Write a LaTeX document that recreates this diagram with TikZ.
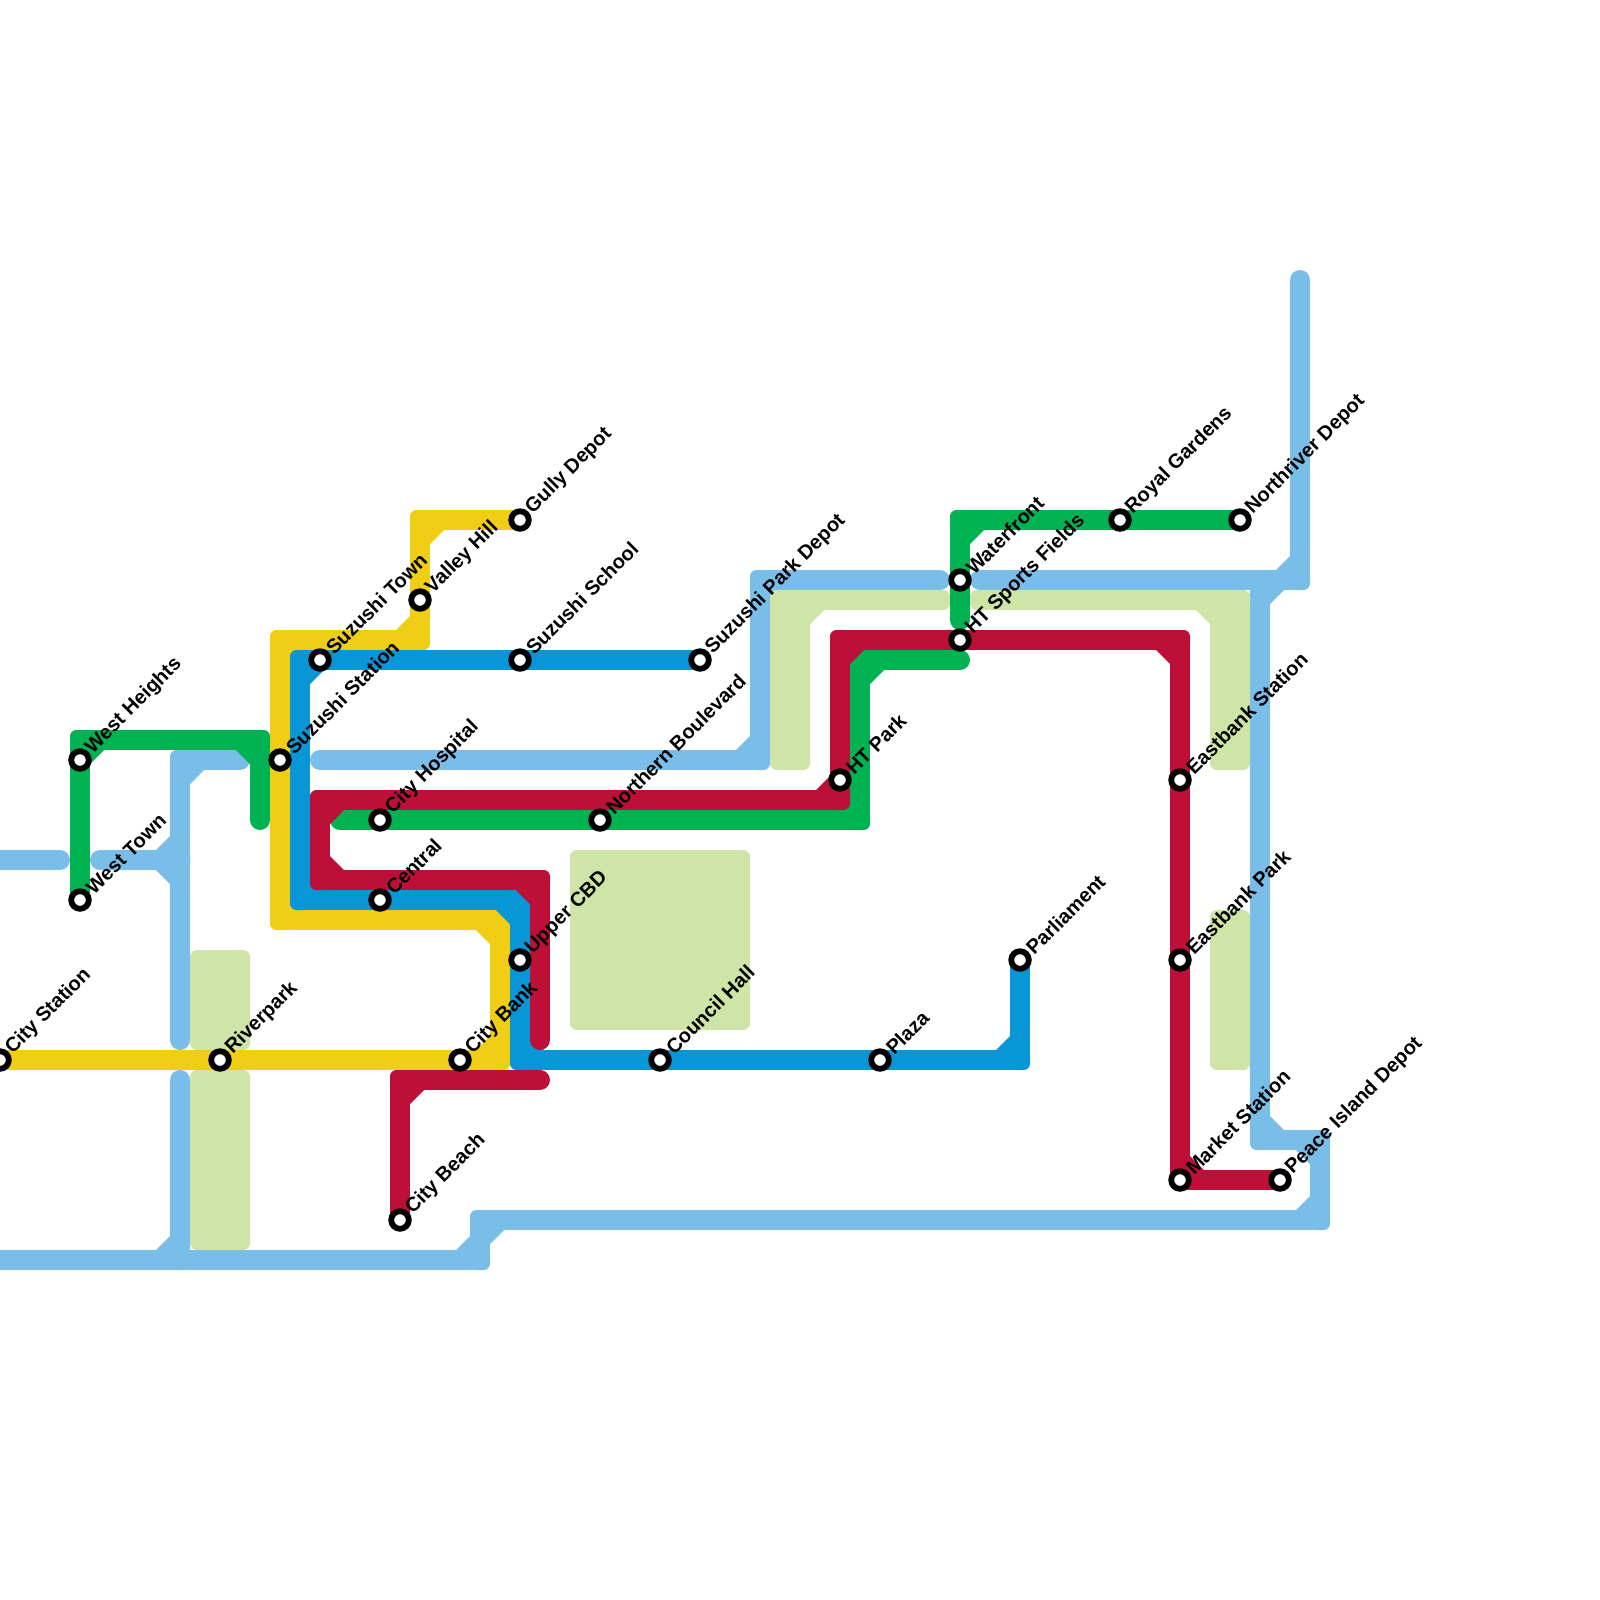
\documentclass[tikz,border=0pt]{standalone}
\usepackage{fontspec}
\setmainfont{Liberation Sans}
\usetikzlibrary{backgrounds}
\definecolor{cpale}{HTML}{CFE4A7}
\definecolor{csky}{HTML}{79BDE9}
\definecolor{cyel}{HTML}{F0CE15}
\definecolor{cblu}{HTML}{0896D7}
\definecolor{cgrn}{HTML}{00B251}
\definecolor{cred}{HTML}{BD1038}
\tikzset{
  metro/.style={draw=#1,line width=0.5cm,line cap=round,line join=bevel},
  parkarea/.style={fill=cpale,rounded corners=0.17cm},
  stationdot/.style={circle,draw=black,fill=white,line width=0.145cm,minimum size=0.44cm,inner sep=0pt},
  stationlabel/.style={rotate=45,anchor=west,inner sep=0pt,font=\fontsize{14.25pt}{16pt}\selectfont\bfseries,text=black},
}
% bend: small outer rounding plus chamfer filling the inner side of a 90 degree bend
\newcommand{\chf}[5]{\fill[#1,rounded corners=0.16cm] ({#2-.5},{#3-.5}) rectangle ({#2+.5},{#3+.5});
  \fill[#1] ({#2},{#3}) -- ({#2+1.2*#4},{#3}) -- ({#2+1.2*#4},{#3+.5*#5}) -- ({#2+.5*#4},{#3+1.2*#5}) -- ({#2},{#3+1.2*#5}) -- cycle;}
\newcommand{\stn}[4]{\node[stationdot] (#1) at (#2,#3) {};
  \node[stationlabel] (#1-label) at ([xshift=0.225cm,yshift=0.225cm]#1.center) {#4};}
\begin{document}
\begin{tikzpicture}[x=0.5cm,y=-0.5cm]
\useasboundingbox (0,0) rectangle (80,80);
\stn{wh}{4}{38}{West Heights}
\stn{wt}{4}{45}{West Town}
\stn{cs}{0}{53}{City Station}
\stn{rp}{11}{53}{Riverpark}
\stn{ss}{14}{38}{Suzushi Station}
\stn{st}{16}{33}{Suzushi Town}
\stn{vh}{21}{30}{Valley Hill}
\stn{gd}{26}{26}{Gully Depot}
\stn{sc}{26}{33}{Suzushi School}
\stn{sp}{35}{33}{Suzushi Park Depot}
\stn{ch}{19}{41}{City Hospital}
\stn{ce}{19}{45}{Central}
\stn{nb}{30}{41}{Northern Boulevard}
\stn{hp}{42}{39}{HT Park}
\stn{uc}{26}{48}{Upper CBD}
\stn{cb}{23}{53}{City Bank}
\stn{co}{33}{53}{Council Hall}
\stn{pl}{44}{53}{Plaza}
\stn{pa}{51}{48}{Parliament}
\stn{be}{20}{61}{City Beach}
\stn{wf}{48}{29}{Waterfront}
\stn{hs}{48}{32}{HT Sports Fields}
\stn{rg}{56}{26}{Royal Gardens}
\stn{nd}{62}{26}{Northriver Depot}
\stn{es}{59}{39}{Eastbank Station}
\stn{ep}{59}{48}{Eastbank Park}
\stn{ms}{59}{59}{Market Station}
\stn{pi}{64}{59}{Peace Island Depot}
\coordinate (skyTop) at (65,14);
\coordinate (skyEndA) at (49,29);
\coordinate (skyEndB) at (47,29);
\coordinate (skyEndC) at (16,38);
\coordinate (skyEast) at (63,29);
\coordinate (skyWest) at (-1,63);
\coordinate (skyV1) at (12,38);
\coordinate (skyV2) at (9,52);
\coordinate (skyV3) at (9,54);
\coordinate (skyV4) at (9,63);
\coordinate (skyH1) at (-1,43);
\coordinate (skyH2) at (3,43);
\coordinate (skyH3) at (5,43);
\coordinate (skyH4) at (9,43);
\coordinate (grnA) at (13,41);
\coordinate (grnB) at (17,41);
\coordinate (grnC) at (48,33);
\coordinate (grnD) at (48,31);
\coordinate (redA) at (27,52);
\coordinate (redB) at (27,54);
\begin{pgfonlayer}{background}
\fill[white] (0,0) rectangle (80,80);
% sky blue lines
\draw[metro=csky] (skyTop) -- (65,29) -- (skyEndA);
\draw[metro=csky] (skyEast) -- (63,57) -- (66,57) -- (66,61) -- (24,61) -- (24,63) -- (skyWest);
\draw[metro=csky] (skyEndC) -- (38,38) -- (38,29) -- (skyEndB);
\draw[metro=csky] (skyV1) -- (9,38) -- (skyV2);
\draw[metro=csky] (skyV3) -- (skyV4);
\draw[metro=csky] (skyH1) -- (skyH2);
\draw[metro=csky] (skyH3) -- (skyH4);
\chf{csky}{65}{29}{-1}{-1}
\chf{csky}{63}{29}{1}{1}
\chf{csky}{63}{57}{1}{-1}
\chf{csky}{66}{57}{-1}{1}
\chf{csky}{66}{61}{-1}{-1}
\chf{csky}{24}{61}{1}{1}
\chf{csky}{24}{63}{-1}{-1}
\chf{csky}{38}{38}{-1}{-1}
\chf{csky}{38}{29}{1}{1}
\chf{csky}{9}{38}{1}{1}
\chf{csky}{9}{43}{-1}{-1}
\chf{csky}{9}{43}{-1}{1}
\chf{csky}{9}{63}{-1}{-1}
% parks
\fill[parkarea] (38.5,29.5) rectangle (40.5,38.5);
\fill[parkarea] (38.5,29.5) rectangle (47.5,30.5);
\fill[cpale] (40.4,30.4) -- (41.2,30.4) -- (41.2,30.5) -- (40.5,31.2) -- (40.4,31.2) -- cycle;
\fill[parkarea] (48.5,29.5) rectangle (62.5,30.5);
\fill[parkarea] (60.5,29.5) rectangle (62.5,38.5);
\fill[cpale] (60.6,30.4) -- (59.8,30.4) -- (59.8,30.5) -- (60.5,31.2) -- (60.6,31.2) -- cycle;
\fill[parkarea] (60.5,45.5) rectangle (62.5,53.5);
\fill[parkarea] (28.5,42.5) rectangle (37.5,51.5);
\fill[parkarea] (9.5,47.5) rectangle (12.5,52.5);
\fill[parkarea] (9.5,53.5) rectangle (12.5,62.5);
% yellow line
\draw[metro=cyel] (cs.center) -- (rp.center) -- (cb.center) -- (25,53) -- (25,46) -- (14,46) -- (14,32) -- (21,32) -- (vh.center) -- (21,26) -- (gd.center);
\chf{cyel}{25}{53}{-1}{-1}
\chf{cyel}{25}{46}{-1}{1}
\chf{cyel}{14}{46}{1}{-1}
\chf{cyel}{14}{32}{1}{1}
\chf{cyel}{21}{32}{-1}{-1}
\chf{cyel}{21}{26}{1}{1}
% dark blue line
\draw[metro=cblu] (sp.center) -- (sc.center) -- (st.center) -- (15,33) -- (15,45) -- (ce.center) -- (26,45) -- (uc.center) -- (26,53) -- (co.center) -- (pl.center) -- (51,53) -- (pa.center);
\chf{cblu}{15}{33}{1}{1}
\chf{cblu}{15}{45}{1}{-1}
\chf{cblu}{26}{45}{-1}{1}
\chf{cblu}{26}{53}{1}{-1}
\chf{cblu}{51}{53}{-1}{-1}
% green lines
\draw[metro=cgrn] (wt.center) -- (wh.center) -- (4,37) -- (13,37) -- (grnA);
\draw[metro=cgrn] (grnB) -- (ch.center) -- (nb.center) -- (43,41) -- (43,33) -- (grnC);
\draw[metro=cgrn] (nd.center) -- (rg.center) -- (48,26) -- (wf.center) -- (grnD);
\chf{cgrn}{4}{37}{1}{1}
\chf{cgrn}{13}{37}{-1}{1}
\chf{cgrn}{43}{41}{-1}{-1}
\chf{cgrn}{43}{33}{1}{1}
\chf{cgrn}{48}{26}{1}{1}
% red lines
\draw[metro=cred] (pi.center) -- (ms.center) -- (ep.center) -- (es.center) -- (59,32) -- (hs.center) -- (42,32) -- (hp.center) -- (42,40) -- (16,40) -- (16,44) -- (27,44) -- (redA);
\draw[metro=cred] (be.center) -- (20,54) -- (redB);
\chf{cred}{59}{59}{1}{-1}
\chf{cred}{59}{32}{-1}{1}
\chf{cred}{42}{32}{1}{1}
\chf{cred}{42}{40}{-1}{-1}
\chf{cred}{16}{40}{1}{1}
\chf{cred}{16}{44}{1}{-1}
\chf{cred}{27}{44}{-1}{1}
\chf{cred}{20}{54}{1}{1}
\end{pgfonlayer}
\end{tikzpicture}
\end{document}
